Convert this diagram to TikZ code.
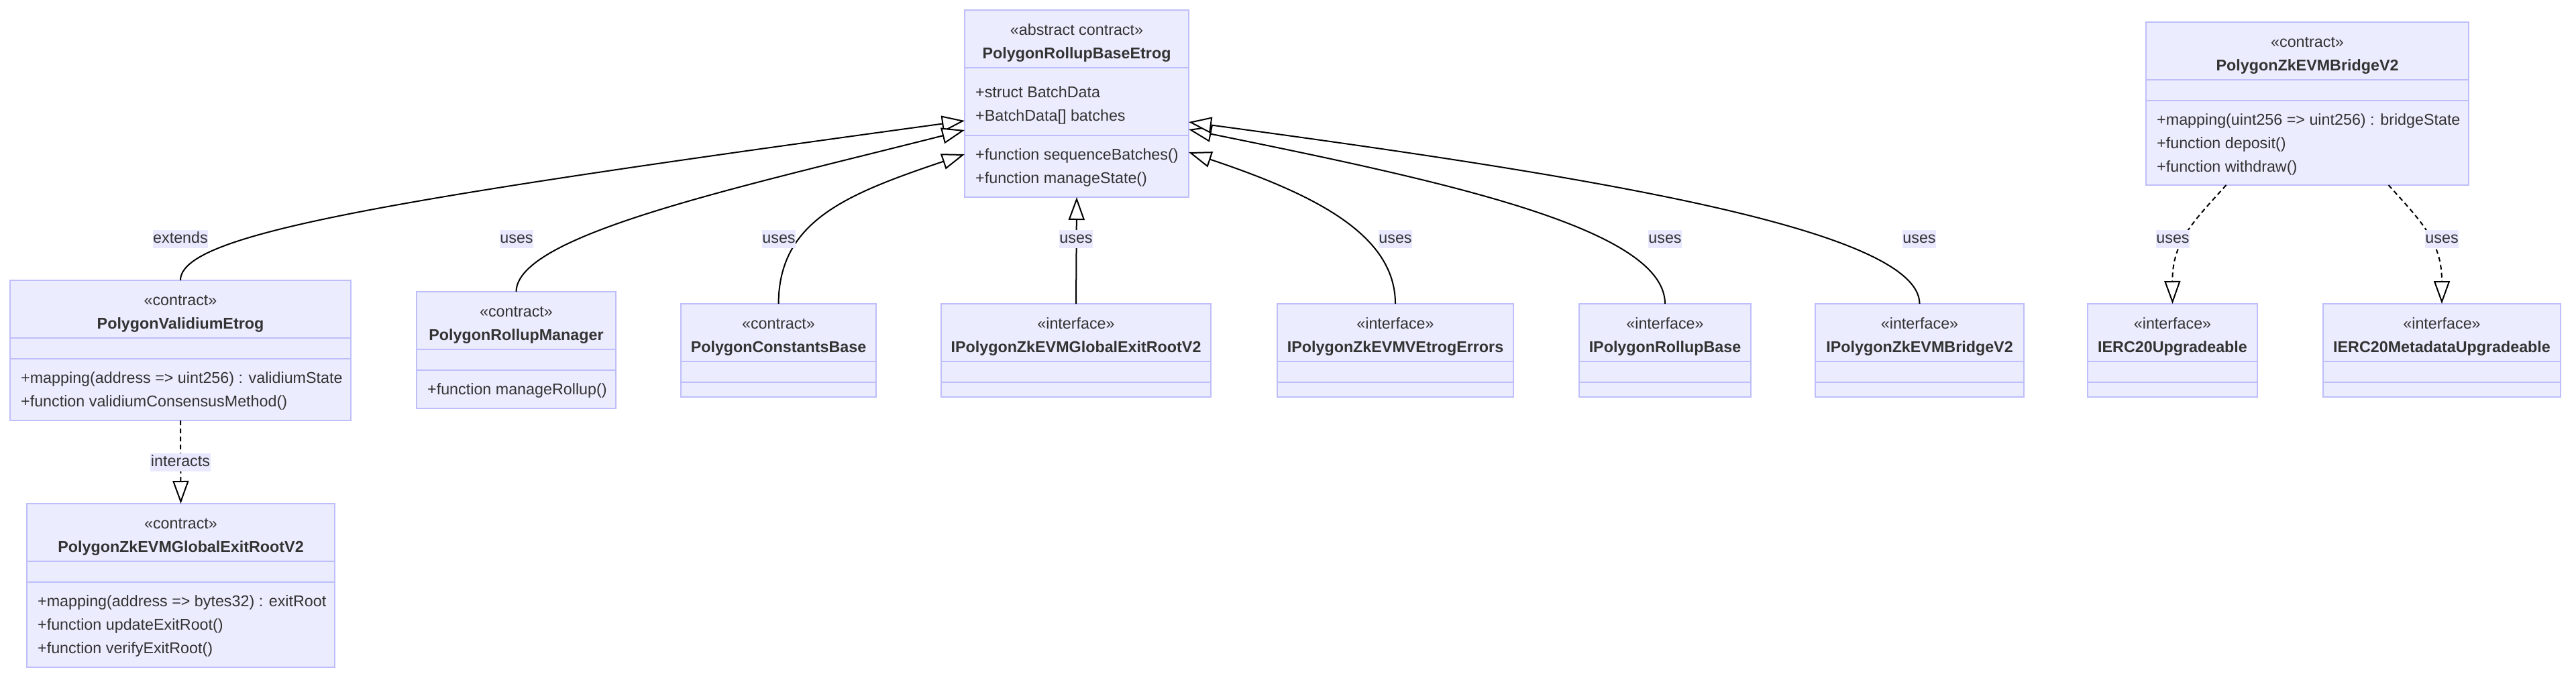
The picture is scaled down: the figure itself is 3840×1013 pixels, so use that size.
\documentclass[tikz,border=0pt]{standalone}
\usepackage{fontspec}
\setmainfont{Liberation Sans}
\usetikzlibrary{arrows.meta}
\definecolor{boxfill}{RGB}{236,236,255}
\definecolor{boxline}{RGB}{190,190,250}
\definecolor{txt}{RGB}{51,51,51}
\definecolor{lblbg}{RGB}{232,232,255}
\newcommand\umlfont{\fontsize{23.3pt}{28pt}\selectfont}
% name, left, top, right, bottom, divider1, divider2
\newcommand\clsbox[7]{%
  \node[cls, minimum width={#4-#2}, minimum height={#5-#3}] (#1) at (#2,#3) {};
  \draw[divl] (#2,#6) -- (#4,#6);
  \draw[divl] (#2,#7) -- (#4,#7);
}
% name, left, right, stereotype, title  (row of empty boxes)
\newcommand\rowbox[5]{%
  \clsbox{#1}{#2}{453}{#3}{592}{539}{570}
  \node[stereo] (#1-st) at (#1.north |- 0,490) {«#4»};
  \node[cname] (#1-nm) at (#1.north |- 0,525) {#5};
}
\begin{document}
\begin{tikzpicture}[x=1pt,y=-1pt,
  cls/.style={draw=boxline, fill=boxfill, line width=2pt, inner sep=0pt, outer sep=0pt, anchor=north west},
  divl/.style={draw=boxline, line width=2pt},
  stereo/.style={font=\umlfont, text=txt, inner sep=0pt, anchor=base},
  cname/.style={font=\umlfont\bfseries, text=txt, inner sep=0pt, anchor=base},
  mem/.style={font=\umlfont, text=txt, inner sep=0pt, anchor=base west},
  rel/.style={line width=2pt, draw=black, -{Triangle[length=34pt,width=24pt,fill=white]}},
  dep/.style={rel, dash pattern=on 7pt off 5pt},
  lbl/.style={font=\umlfont, text=txt, fill=lblbg, inner xsep=0.5pt, inner ysep=2pt, text height=17pt, text depth=6pt}
]
\useasboundingbox (0,0) rectangle (3840,1013);

% ---------- class boxes ----------
\clsbox{main}{1438}{15}{1772}{294}{101}{202}
\node[stereo] (main-st) at (main.north |- 0,52) {«abstract contract»};
\node[cname] (main-nm) at (main.north |- 0,87) {PolygonRollupBaseEtrog};
\node[mem] (main-a1) at (1454,145) {+struct BatchData};
\node[mem] (main-a2) at (1454,180) {+BatchData[] batches};
\node[mem] (main-m1) at (1454,238) {+function sequenceBatches()};
\node[mem] (main-m2) at (1454,273) {+function manageState()};

\clsbox{bridge}{3199}{33}{3680}{276}{119}{150}
\node[stereo] (bridge-st) at (bridge.north |- 0,70) {«contract»};
\node[cname] (bridge-nm) at (bridge.north |- 0,105) {PolygonZkEVMBridgeV2};
\node[mem] (bridge-m1) at (3215,186) {+mapping(uint256 => uint256) : bridgeState};
\node[mem] (bridge-m2) at (3215,221) {+function deposit()};
\node[mem] (bridge-m3) at (3215,256) {+function withdraw()};

\clsbox{val}{15}{418}{523}{627}{504}{535}
\node[stereo] (val-st) at (val.north |- 0,455) {«contract»};
\node[cname] (val-nm) at (val.north |- 0,490) {PolygonValidiumEtrog};
\node[mem] (val-m1) at (31,571) {+mapping(address => uint256) : validiumState};
\node[mem] (val-m2) at (31,606) {+function validiumConsensusMethod()};

\clsbox{ger}{40}{751}{499}{995}{837}{868}
\node[stereo] (ger-st) at (ger.north |- 0,788) {«contract»};
\node[cname] (ger-nm) at (ger.north |- 0,823) {PolygonZkEVMGlobalExitRootV2};
\node[mem] (ger-m1) at (56,904) {+mapping(address => bytes32) : exitRoot};
\node[mem] (ger-m2) at (56,939) {+function updateExitRoot()};
\node[mem] (ger-m3) at (56,974) {+function verifyExitRoot()};

\clsbox{mgr}{621}{435}{918}{609}{521}{552}
\node[stereo] (mgr-st) at (mgr.north |- 0,472) {«contract»};
\node[cname] (mgr-nm) at (mgr.north |- 0,507) {PolygonRollupManager};
\node[mem] (mgr-m1) at (637,588) {+function manageRollup()};

\rowbox{cst}{1015}{1306}{contract}{PolygonConstantsBase}
\rowbox{iger}{1403}{1805}{interface}{IPolygonZkEVMGlobalExitRootV2}
\rowbox{err}{1904}{2256}{interface}{IPolygonZkEVMVEtrogErrors}
\rowbox{irb}{2354}{2610}{interface}{IPolygonRollupBase}
\rowbox{ibr}{2706}{3017}{interface}{IPolygonZkEVMBridgeV2}
\rowbox{ie20}{3112}{3365}{interface}{IERC20Upgradeable}
\rowbox{im20}{3463}{3817}{interface}{IERC20MetadataUpgradeable}

% ---------- connectors ----------
\draw[rel] (val.north) .. controls (269,350) and (560,300) .. ([yshift=-165pt]main.north west);
\draw[rel] (mgr.north) .. controls (770,350) and (1100,280) .. ([yshift=-179pt]main.north west);
\draw[rel] (cst.north) .. controls (1161,330) and (1260,290) .. ([yshift=-215pt]main.north west);
\draw[rel] (iger.north) -- (main.south);
\draw[rel] (err.north) .. controls (2080,350) and (1960,290) .. ([yshift=-212pt]main.north east);
\draw[rel] (irb.north) .. controls (2482,340) and (2150,270) .. ([yshift=-178pt]main.north east);
\draw[rel] (ibr.north) .. controls (2861,340) and (2350,260) .. ([yshift=-167pt]main.north east);
\draw[dep] ([xshift=-121pt]bridge.south) .. controls (3270,330) and (3238,360) .. (ie20.north);
\draw[dep] ([xshift=121pt]bridge.south) .. controls (3609,330) and (3640,360) .. (im20.north);
\draw[dep] (val.south) -- (ger.north);

% ---------- edge labels ----------
\node[lbl] (l-ext) at (269,356.5) {extends};
\node[lbl] (l-mgr) at (770,356.5) {uses};
\node[lbl] (l-cst) at (1161,356.5) {uses};
\node[lbl] (l-iger) at (1604,356.5) {uses};
\node[lbl] (l-err) at (2080,356.5) {uses};
\node[lbl] (l-irb) at (2482,356.5) {uses};
\node[lbl] (l-ibr) at (2861,356.5) {uses};
\node[lbl] (l-ie20) at (3239,356.5) {uses};
\node[lbl] (l-im20) at (3640,356.5) {uses};
\node[lbl] (l-int) at (269,689.5) {interacts};
\end{tikzpicture}
\end{document}
